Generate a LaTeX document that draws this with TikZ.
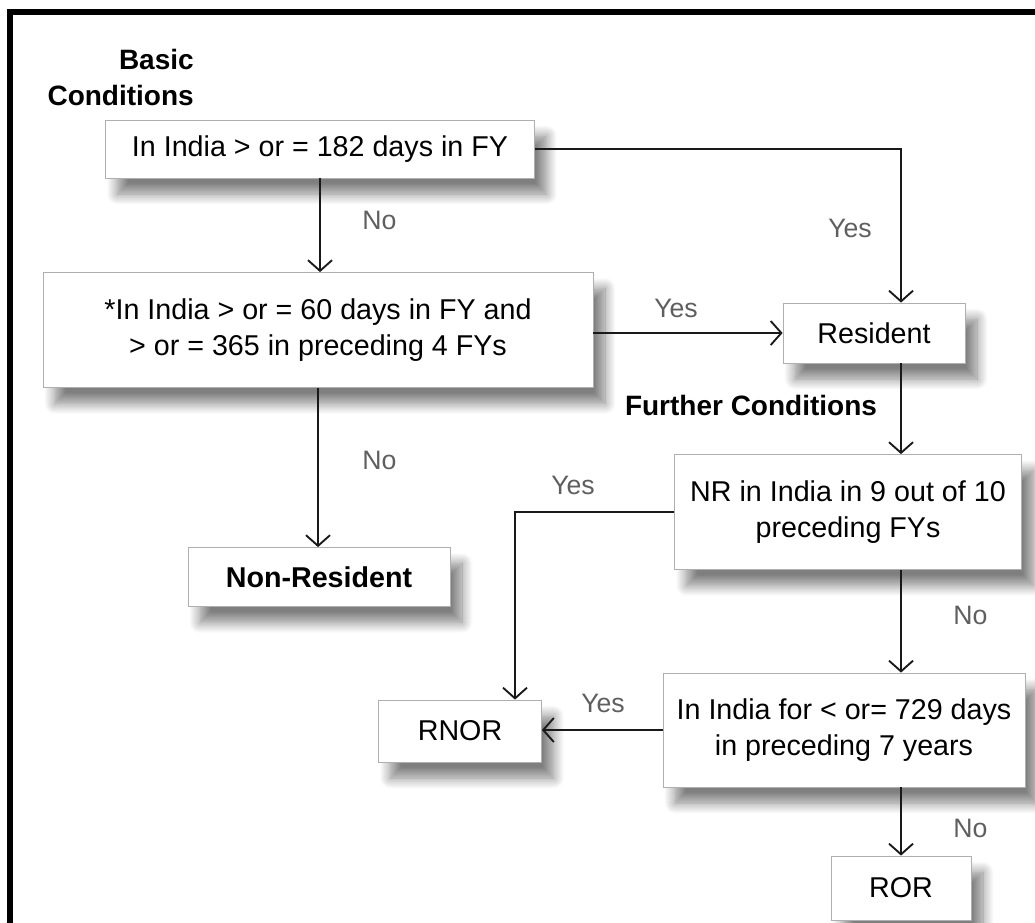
\documentclass[tikz,border=0pt]{standalone}
\usepackage{fontspec}
\setmainfont{Liberation Sans}
\usetikzlibrary{arrows.meta}
\usetikzlibrary{calc}
\usetikzlibrary{shadows.blur}

\tikzset{
  flowbox/.style={draw={rgb, 255:red, 175; green, 175; blue, 175}, line width=0.6pt, fill=white, inner sep=0pt, align=center,
    font=\fontsize{21.5}{27}\selectfont,
    blur shadow={shadow xshift=9pt, shadow yshift=-12pt, shadow blur radius=8pt, shadow blur steps=12, shadow opacity=50}},
  headtext/.style={font=\fontsize{21}{27}\selectfont\bfseries, inner sep=0.75pt},
  anstext/.style={font=\fontsize{20}{24}\selectfont, text={rgb, 255:red, 95; green, 95; blue, 95}, inner sep=0.75pt},
  link/.style={draw={rgb, 255:red, 25; green, 25; blue, 25}, line width=1.4pt, -{Straight Barb[length=8pt,width=18pt,line width=1.4pt]}}
}

\begin{document}
\begin{tikzpicture}[x=0.75pt,y=0.75pt,yscale=-1,xscale=1]
\useasboundingbox (0,0) rectangle (1035,922);

%Shape: Frame
\draw [line width=4.5pt] (10,12) rectangle (1050,940);

% Text Node
\draw (195,77) node [anchor=east, align=right, headtext] (basic) {Basic\\Conditions};
% Text Node
\draw (751,405) node [headtext] (further) {Further Conditions};

%Shape: Rectangle
\draw (320,149) node [flowbox, minimum width=321.75pt, minimum height=43.5pt] (q1) {In India > or = 182 days in FY};
%Shape: Rectangle
\draw (318,330) node [flowbox, minimum width=412.5pt, minimum height=86.25pt] (q2) {*In India > or = 60 days in FY and\\> or = 365 in preceding 4 FYs};
%Shape: Rectangle
\draw (874,333) node [flowbox, minimum width=136.5pt, minimum height=45pt] (res) {Resident};
%Shape: Rectangle
\draw (319,577) node [flowbox, minimum width=196.5pt, minimum height=44.25pt, font=\fontsize{21.5}{27}\selectfont\bfseries] (nonres) {Non-Resident};
%Shape: Rectangle
\draw (848,512) node [flowbox, minimum width=260.25pt, minimum height=86.25pt] (nr) {NR in India in 9 out of 10\\preceding FYs};
%Shape: Rectangle
\draw (844,730) node [flowbox, minimum width=271.5pt, minimum height=85.5pt] (q3) {In India for < or= 729 days\\in preceding 7 years};
%Shape: Rectangle
\draw (460,731) node [flowbox, minimum width=122.25pt, minimum height=46.5pt] (rnor) {RNOR};
%Shape: Rectangle
\draw (901,888) node [flowbox, minimum width=105pt, minimum height=48pt] (ror) {ROR};

%Straight Lines
\draw [link] (q1.south) -- (q1.south |- q2.north);
\draw [link] (q1.east) -| (res.north -| ror.north);
\draw [link] (q2.east |- res.west) -- (res.west);
\draw [link] (q2.south) -- (q2.south |- nonres.north);
\draw [link] (res.south -| ror.north) -- (nr.north -| ror.north);
\draw [link] (nr.west) -| ($(rnor.north)+(55,0)$);
\draw [link] (nr.south -| ror.north) -- (q3.north -| ror.north);
\draw [link] (q3.west) -- (q3.west -| rnor.east);
\draw [link] (q3.south -| ror.north) -- (ror.north);

% Text Node
\draw (361,220) node [anchor=west, anstext] (no1) {No};
% Text Node
\draw (827,228) node [anchor=west, anstext] (yes1) {Yes};
% Text Node
\draw (653,308) node [anchor=west, anstext] (yes2) {Yes};
% Text Node
\draw (361,460) node [anchor=west, anstext] (no2) {No};
% Text Node
\draw (550,485) node [anchor=west, anstext] (yes3) {Yes};
% Text Node
\draw (952,615) node [anchor=west, anstext] (no3) {No};
% Text Node
\draw (580,703) node [anchor=west, anstext] (yes4) {Yes};
% Text Node
\draw (952,828) node [anchor=west, anstext] (no4) {No};

\end{tikzpicture}
\end{document}
